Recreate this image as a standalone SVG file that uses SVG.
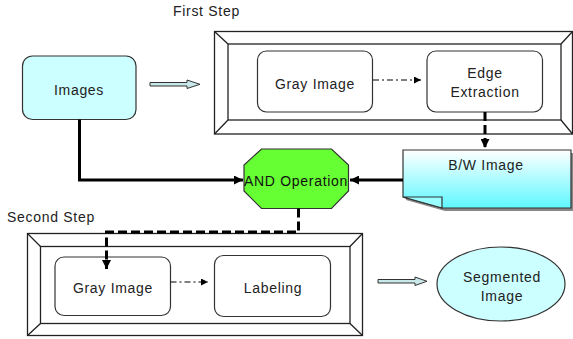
<svg xmlns="http://www.w3.org/2000/svg" width="573" height="339" viewBox="0 0 573 339">
<defs>
<style>
text{font-family:"Liberation Sans",Arial,sans-serif;font-size:14px;fill:#222;letter-spacing:0.7px}
.c{text-anchor:middle}
.frame{fill:#fff;stroke:#222;stroke-width:1.3}
.node{fill:#fff;stroke:#333;stroke-width:1.2}
.thick{fill:none;stroke:#000;stroke-width:3}
.dash{fill:none;stroke:#000;stroke-width:3;stroke-dasharray:9,4}
.dd{fill:none;stroke:#000;stroke-width:1;stroke-dasharray:6,3,2,3}
.hollow{fill:#c8e8ea;stroke:#333;stroke-width:1}
</style>
<marker id="ah" viewBox="0 0 10 10" refX="10" refY="5" markerWidth="3" markerHeight="3" orient="auto" markerUnits="strokeWidth"><path d="M0,0L10,5L0,10z" fill="#000"/></marker>
<marker id="ahs" viewBox="0 0 10 10" refX="10" refY="5" markerWidth="7" markerHeight="7" orient="auto" markerUnits="userSpaceOnUse"><path d="M0,0L10,5L0,10z" fill="#000"/></marker>
<linearGradient id="bw" x1="0" y1="0" x2="0" y2="1"><stop offset="0" stop-color="#ffffff"/><stop offset="1" stop-color="#5ef8ff"/></linearGradient>
</defs>

<text x="173" y="16">First Step</text>
<text x="7" y="222">Second Step</text>

<g id="frame1">
<rect class="frame" x="214.5" y="31.5" width="358" height="102.5"/>
<rect class="frame" x="228" y="44" width="333" height="76"/>
<path d="M214.5,31.5L228,44M572.5,31.5L561,44M214.5,134L228,120M572.5,134L561,120" stroke="#222" stroke-width="1.3"/>
</g>
<g id="frame2">
<rect class="frame" x="27.5" y="233.5" width="335" height="102"/>
<rect class="frame" x="40.5" y="246.5" width="309.5" height="77"/>
<path d="M27.5,233.5L40.5,246.5M362.5,233.5L350,246.5M27.5,335.5L40.5,323.5M362.5,335.5L350,323.5" stroke="#222" stroke-width="1.3"/>
</g>

<g id="images">
<rect x="22.5" y="56" width="113.5" height="63.5" rx="10" fill="#ccffff" stroke="#333" stroke-width="1.2"/>
<text class="c" x="79" y="95">Images</text>
</g>
<g id="gray1">
<rect class="node" x="257.5" y="51" width="115" height="61" rx="9"/>
<text class="c" x="315" y="88.5">Gray Image</text>
</g>
<g id="edge">
<rect class="node" x="427" y="51" width="115.5" height="61" rx="9"/>
<text class="c" x="485" y="78">Edge</text>
<text class="c" x="485" y="97">Extraction</text>
</g>
<g id="and">
<polygon points="261.5,149 331.5,149 348.5,165 348.5,191 331.5,208.5 261.5,208.5 244,191 244,165" fill="#66ff33" stroke="#333" stroke-width="1.2"/>
<text class="c" x="296" y="186" style="fill:#111">AND Operation</text>
</g>
<g id="bwimage">
<path d="M406,153H574V211H445L406,200Z" fill="#888"/>
<path d="M403,150H571V208H442L403,197Z" fill="url(#bw)" stroke="#333" stroke-width="1.2"/>
<path d="M403,197H442V208Z" fill="#9ff" stroke="#333" stroke-width="1.2"/>
<text class="c" x="486" y="170">B/W Image</text>
</g>
<g id="gray2">
<rect class="node" x="55" y="257" width="115.5" height="58.5" rx="9"/>
<text class="c" x="113" y="293">Gray Image</text>
</g>
<g id="labeling">
<rect class="node" x="214.5" y="255.5" width="116" height="61" rx="9"/>
<text class="c" x="273" y="293">Labeling</text>
</g>
<g id="segmented">
<ellipse cx="501" cy="284" rx="64" ry="37" fill="#ccffff" stroke="#333" stroke-width="1.2"/>
<text class="c" x="502" y="282">Segmented</text>
<text class="c" x="502" y="300.5">Image</text>
</g>

<g id="connectors">
<path class="hollow" d="M150,82.5H187V80L200,84.3L187,88.5V86H150Z"/>
<path class="hollow" d="M378,279.5H415V277L427,281.3L415,285.5V283H378Z"/>
<path class="dd" d="M373,80H421" marker-end="url(#ahs)"/>
<path class="dd" d="M170.5,282H208" marker-end="url(#ahs)"/>
<path class="thick" d="M79.5,119.5V180H243" marker-end="url(#ah)"/>
<path class="thick" d="M403,180H350" marker-end="url(#ah)"/>
<path class="dash" d="M485,112V148" marker-end="url(#ah)"/>
<path class="dash" d="M298.5,208.5V232H106.5V269" marker-end="url(#ah)"/>
</g>
</svg>
